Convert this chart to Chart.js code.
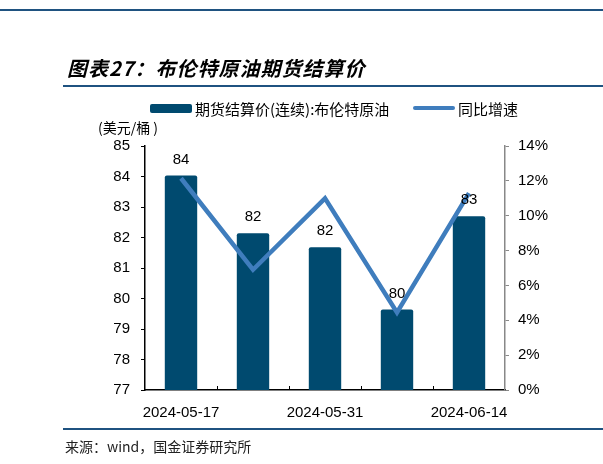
<!DOCTYPE html>
<html>
<head>
<meta charset="utf-8">
<script src="https://cdn.jsdelivr.net/npm/chart.js@4"></script>
<style>
  html, body { margin: 0; padding: 0; background: #fff; }
  canvas { display: block; }
</style>
</head>
<body>
<canvas id="myChart" width="603" height="464"></canvas>
<script>
const dates = ["2024-05-17", "2024-05-24", "2024-05-31", "2024-06-07", "2024-06-14"];
const priceValues = [84.03, 82.14, 81.68, 79.64, 82.70];
const growthValues = [12.15, 6.9, 11.0, 4.45, 11.3];
const priceLabels = ["84", "82", "82", "80", "83"];
const barName = "期货结算价(连续):布伦特原油";
const lineName = "同比增速";

const barColor = "#004a6f";
const lineColor = "#3f7dbd";
const ruleColor = "#1f5280";
const font = "'Liberation Sans', Arial, sans-serif";
const cjk = "'Noto Sans CJK SC', sans-serif";

// Рамка, заголовок, легенда и подписи
const decorPlugin = {
    id: "decor",
    afterDatasetsDraw(chart) {
        const ctx = chart.ctx;
        const meta = chart.getDatasetMeta(0);
        ctx.save();
        ctx.fillStyle = "#000";
        ctx.font = "15px " + font;
        ctx.textAlign = "center";
        ctx.textBaseline = "middle";
        meta.data.forEach((bar, i) => {
            ctx.fillText(priceLabels[i], bar.x, bar.y - 16);
        });
        ctx.restore();
    },
    afterDraw(chart) {
        const ctx = chart.ctx;
        const x = chart.scales.x;
        ctx.save();

        // короткие риски оси X внутрь
        ctx.strokeStyle = "#000";
        ctx.lineWidth = 1;
        for (let i = 1; i < dates.length; i++) {
            const px = Math.round((x.getPixelForValue(i - 1) + x.getPixelForValue(i)) / 2) + 0.5;
            ctx.beginPath();
            ctx.moveTo(px, x.top - 4);
            ctx.lineTo(px, x.top);
            ctx.stroke();
        }

        // линии
        ctx.fillStyle = ruleColor;
        ctx.fillRect(0, 9, 603, 2);
        ctx.fillRect(63, 85, 540, 2);
        ctx.fillRect(63, 428, 540, 2);

        // заголовок
        ctx.fillStyle = "#000";
        ctx.textAlign = "left";
        ctx.textBaseline = "middle";
        ctx.font = "italic bold 20px " + cjk;
        ctx.letterSpacing = "1px";
        ctx.fillText("图表27：布伦特原油期货结算价", 67, 68);
        ctx.letterSpacing = "0px";

        // легенда
        ctx.fillStyle = barColor;
        ctx.beginPath();
        ctx.roundRect(150, 104, 42, 9, 2);
        ctx.fill();
        ctx.fillStyle = "#000";
        ctx.font = "15px " + cjk;
        ctx.fillText(barName, 195, 109);
        ctx.strokeStyle = lineColor;
        ctx.lineWidth = 4;
        ctx.lineCap = "round";
        ctx.beginPath();
        ctx.moveTo(415, 108);
        ctx.lineTo(453, 108);
        ctx.stroke();
        ctx.fillText(lineName, 458, 109);

        // единицы
        ctx.font = "14px " + cjk;
        ctx.fillText("(美元/桶 )", 98, 128);

        // источник
        ctx.fillStyle = "#222";
        ctx.font = "14px " + cjk;
        ctx.fillText("来源：wind，国金证券研究所", 65, 447);
        ctx.restore();
    }
};

const ctx = document.getElementById("myChart").getContext("2d");
const myChart = new Chart(ctx, {
    type: "bar",
    data: {
        labels: dates,
        datasets: [{
            type: "bar",
            label: barName,
            data: priceValues,
            backgroundColor: barColor,
            borderRadius: { topLeft: 2, topRight: 2 },
            borderSkipped: "bottom",
            categoryPercentage: 1,
            barPercentage: 0.45,
            yAxisID: "y",
            order: 2
        }, {
            type: "line",
            label: lineName,
            data: growthValues,
            borderColor: lineColor,
            borderWidth: 4.5,
            pointRadius: 0,
            tension: 0,
            yAxisID: "y1",
            order: 1
        }]
    },
    options: {
        responsive: false,
        animation: false,
        devicePixelRatio: 1,
        layout: { padding: { top: 146, left: 0, right: 38, bottom: 34 } },
        plugins: {
            legend: { display: false },
            title: { display: false },
            tooltip: { enabled: false }
        },
        scales: {
            x: {
                offset: true,
                grid: { display: false, offset: true },
                border: { color: "#000", width: 1.5 },
                ticks: {
                    autoSkip: false,
                    maxRotation: 0,
                    padding: 6,
                    color: "#000",
                    font: { family: font, size: 15 },
                    callback: (v, i) => (i % 2 === 0 ? dates[i] : "")
                },
                afterFit: s => { s.height = 40; }
            },
            y: {
                position: "left",
                min: 77,
                max: 85,
                grid: { drawOnChartArea: false, tickLength: 4, color: "#000" },
                border: { color: "#000", width: 1.5 },
                ticks: {
                    stepSize: 1,
                    padding: 11,
                    color: "#000",
                    font: { family: font, size: 15 },
                    callback: v => v
                },
                afterFit: s => { s.width = 145; }
            },
            y1: {
                position: "right",
                min: 0,
                max: 14,
                grid: { drawOnChartArea: false, tickLength: 4, color: "#888" },
                border: { color: "#888", width: 1.5 },
                ticks: {
                    stepSize: 2,
                    padding: 9,
                    color: "#000",
                    font: { family: font, size: 15 },
                    callback: v => v + "%"
                },
                afterFit: s => { s.width = 60; }
            }
        }
    },
    plugins: [decorPlugin]
});
</script>
</body>
</html>
